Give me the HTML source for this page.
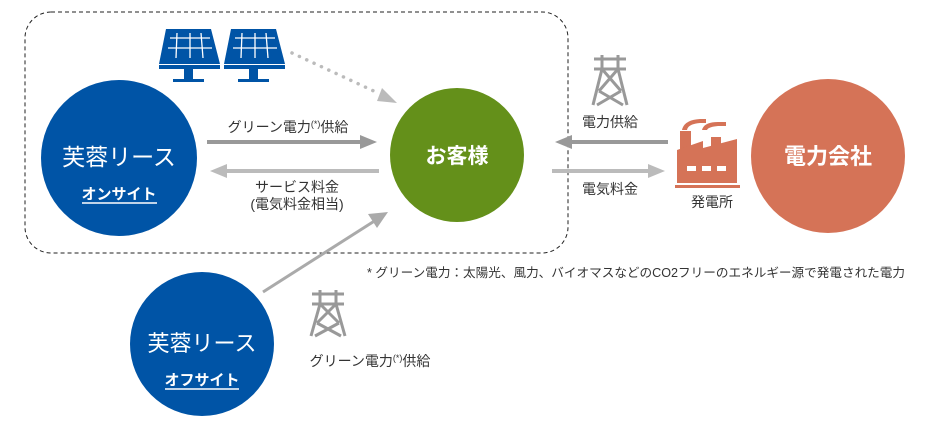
<!DOCTYPE html>
<html><head><meta charset="utf-8"><style>
body{margin:0;width:939px;height:428px;background:#fff;overflow:hidden;font-family:"Liberation Sans","Noto Sans CJK JP",sans-serif}
svg{display:block}
</style></head><body>
<svg width="939" height="428" viewBox="0 0 939 428" xmlns="http://www.w3.org/2000/svg" font-family="Liberation Sans, Noto Sans CJK JP, sans-serif">
<rect x="25" y="12" width="543" height="241" rx="26" fill="none" stroke="#222" stroke-width="1" stroke-dasharray="4,3"/>
<circle cx="119" cy="158" r="78" fill="#0054a6"/>
<circle cx="457" cy="155" r="67" fill="#64901a"/>
<circle cx="828" cy="156" r="77" fill="#d57357"/>
<circle cx="202" cy="344" r="72" fill="#0054a6"/>
<text x="119" y="165" fill="#fff" font-size="23" text-anchor="middle">芙蓉リース</text>
<text x="119" y="199" fill="#fff" font-size="15" font-weight="bold" text-anchor="middle">オンサイト</text>
<line x1="82" y1="203" x2="157" y2="203" stroke="#fff" stroke-width="1.5"/>
<text x="457" y="163" fill="#fff" font-size="21" font-weight="bold" text-anchor="middle">お客様</text>
<text x="828" y="164" fill="#fff" font-size="22" font-weight="bold" text-anchor="middle">電力会社</text>
<text x="202" y="351" fill="#fff" font-size="22" text-anchor="middle">芙蓉リース</text>
<text x="202" y="385" fill="#fff" font-size="15" font-weight="bold" text-anchor="middle">オフサイト</text>
<line x1="165" y1="389" x2="239" y2="389" stroke="#fff" stroke-width="1.5"/>
<g stroke-width="4">
<line x1="207" y1="142" x2="362" y2="142" stroke="#999"/>
<path d="M360,135 L377,142 L360,149Z" fill="#999" stroke="none"/>
<line x1="225" y1="171" x2="379" y2="171" stroke="#bbb"/>
<path d="M227,164 L210,171 L227,178Z" fill="#bbb" stroke="none"/>
<line x1="570" y1="142" x2="668" y2="142" stroke="#999"/>
<path d="M572,135 L555,142 L572,149Z" fill="#999" stroke="none"/>
<line x1="552" y1="171" x2="650" y2="171" stroke="#bbb"/>
<path d="M648,164 L665,171 L648,178Z" fill="#bbb" stroke="none"/>
<line x1="263" y1="292" x2="376" y2="220" stroke="#aaa" stroke-width="3"/>
<path d="M368,214 L388,212 L377,228Z" fill="#aaa" stroke="none"/>
</g>
<line x1="292" y1="53" x2="378" y2="93" stroke="#bbb" stroke-width="3.5" stroke-dasharray="0.1,8" stroke-linecap="round"/>
<path d="M382,88 L397,103 L377,101Z" fill="#bbb"/>
<g fill="#0054a6">
<path d="M166,29 L211,29 L220,64 L159,64Z"/><rect x="159" y="65" width="61" height="4"/><rect x="184" y="69" width="9" height="10"/><rect x="173" y="79" width="31" height="3"/>
<path d="M231,29 L276,29 L285,64 L224,64Z"/><rect x="224" y="65" width="61" height="4"/><rect x="249" y="69" width="9" height="10"/><rect x="238" y="79" width="31" height="3"/>
</g>
<g stroke="#fff" stroke-width="1.3">
<line x1="170" y1="38" x2="210" y2="38"/><line x1="168" y1="48" x2="212" y2="48"/><line x1="177" y1="33" x2="176" y2="58"/><line x1="190" y1="33" x2="190" y2="58"/><line x1="201" y1="33" x2="203" y2="58"/>
<line x1="235" y1="38" x2="275" y2="38"/><line x1="233" y1="48" x2="277" y2="48"/><line x1="242" y1="33" x2="241" y2="58"/><line x1="255" y1="33" x2="255" y2="58"/><line x1="266" y1="33" x2="268" y2="58"/>
</g>
<g stroke="#999" stroke-width="3" fill="none">
<g transform="translate(610,55)">
<line x1="-16" y1="4" x2="16" y2="4"/><line x1="-16" y1="14" x2="16" y2="14"/>
<path d="M-8,0 L-8,14 L-17,50 M8,0 L8,14 L17,50 M-8,14 L11,36 M8,14 L-11,36 M-11,36 L13,50 M11,36 L-13,50"/>
</g>
<g transform="translate(328,290)">
<line x1="-16" y1="4" x2="16" y2="4"/><line x1="-16" y1="14" x2="16" y2="14"/>
<path d="M-8,0 L-8,14 L-17,46 M8,0 L8,14 L17,46 M-8,14 L11,33 M8,14 L-11,33 M-11,33 L13,46 M11,33 L-13,46"/>
</g>
</g>
<g fill="#d57357">
<path d="M682,130 Q684,120 700,119 L706,119 L706,123 L700,123 Q688,124 687,130Z"/>
<path d="M702,130 Q704,122 718,122 L726,122 L726,126 L718,126 Q708,127 707,130Z"/>
<rect x="680" y="131" width="11" height="20"/>
<rect x="711" y="137" width="10" height="15"/>
<path d="M677,150 L703,141 L703,148 L737,139 L737,183 L677,183Z"/>
<rect x="675" y="185" width="65" height="3"/>
</g>
<g fill="#fff"><rect x="687" y="166" width="9" height="5"/><rect x="702" y="166" width="9" height="5"/><rect x="717" y="166" width="9" height="5"/></g>
<g fill="#333" font-size="14">
<text x="288" y="132" text-anchor="middle">グリーン電力<tspan font-size="9" dy="-5">(*)</tspan><tspan dy="5">供給</tspan></text>
<text x="297" y="192" text-anchor="middle">サービス料金</text>
<text x="297" y="209" text-anchor="middle">(電気料金相当)</text>
<text x="610" y="127" text-anchor="middle">電力供給</text>
<text x="610" y="194" text-anchor="middle">電気料金</text>
<text x="712" y="207" text-anchor="middle">発電所</text>
<text x="370" y="366" text-anchor="middle">グリーン電力<tspan font-size="9" dy="-5">(*)</tspan><tspan dy="5">供給</tspan></text>
<text x="367" y="277" font-size="12.5" textLength="538" lengthAdjust="spacingAndGlyphs">* グリーン電力：太陽光、風力、バイオマスなどのCO2フリーのエネルギー源で発電された電力</text>
</g>
</svg>
</body></html>
